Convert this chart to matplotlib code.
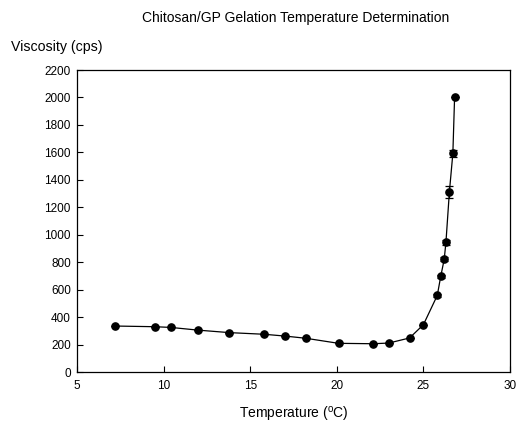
import numpy as np
import matplotlib.pyplot as plt

plt.rcParams['font.family'] = ['Liberation Sans', 'DejaVu Sans']

# Temperatura i lepkość
temperature = [7.2, 9.5, 10.4, 12.0, 13.8, 15.8, 17.0, 18.2, 20.1, 22.1, 23.0,
               24.2, 25.0, 25.8, 26.0, 26.2, 26.3, 26.5, 26.7, 26.8]
viscosity = [335, 330, 325, 305, 287, 275, 262, 246, 209, 206, 211,
             248, 345, 558, 697, 821, 945, 1313, 1593, 2003]
viscosity_err = [0, 0, 0, 0, 0, 0, 0, 0, 0, 0, 0,
                 0, 0, 10, 12, 15, 18, 42, 28, 0]

x_ticks = [5, 10, 15, 20, 25, 30]
y_ticks = list(range(0, 2201, 200))

fig = plt.figure(figsize=(5.19, 4.28), dpi=100)
ax = fig.add_axes([0.1484, 0.1308, 0.8343, 0.7056])

ax.errorbar(temperature, viscosity, yerr=viscosity_err, fmt='-o', color='black',
            markersize=5.2, linewidth=0.9, elinewidth=0.9, capsize=3, capthick=0.9)

ax.set_xlim(5, 30)
ax.set_ylim(0, 2200)
ax.set_xticks(x_ticks)
ax.set_yticks(y_ticks)
ax.tick_params(direction='in', length=4, width=0.8, labelsize=8.5)
ax.tick_params(axis='y', pad=4.5)
ax.tick_params(axis='x', pad=6)
for s in ax.spines.values():
    s.set_linewidth(0.9)

ax.set_xlabel('Temperature ($\\mathregular{^oC}$)', fontsize=10, labelpad=9)
fig.text(0.022, 0.891, 'Viscosity (cps)', fontsize=10.2, ha='left', va='center')
fig.text(0.57, 0.958, 'Chitosan/GP Gelation Temperature Determination',
         fontsize=10, ha='center', va='center')

fig.savefig('out.png', dpi=100)
